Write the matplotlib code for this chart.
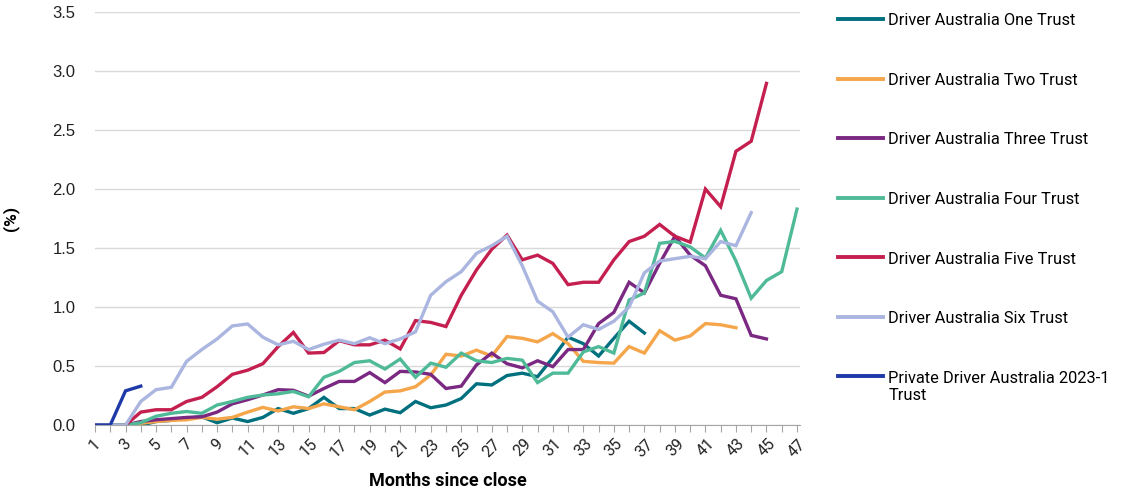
import numpy as np
import matplotlib
matplotlib.use('Agg')
import matplotlib.pyplot as plt

# months since close (category axis)
months = list(range(1, 48))

# default rates (%)
one_trust = [0, 0, 0, 0.0, 0.03, 0.04, 0.06, 0.07, 0.02, 0.06, 0.03, 0.065, 0.14, 0.10, 0.14,
             0.235, 0.14, 0.14, 0.085, 0.135, 0.105, 0.20, 0.147, 0.17, 0.225, 0.35, 0.34,
             0.42, 0.44, 0.41, 0.57, 0.745, 0.69, 0.585, 0.735, 0.88, 0.78]
two_trust = [0, 0, 0, 0.015, 0.03, 0.04, 0.045, 0.065, 0.05, 0.065, 0.11, 0.15, 0.12, 0.155,
             0.14, 0.18, 0.155, 0.13, 0.20, 0.28, 0.29, 0.325, 0.425, 0.60, 0.585, 0.635,
             0.585, 0.75, 0.735, 0.705, 0.775, 0.69, 0.54, 0.53, 0.525, 0.665, 0.61, 0.80,
             0.72, 0.755, 0.86, 0.85, 0.825]
three_trust = [0, 0, 0, 0.03, 0.045, 0.055, 0.065, 0.07, 0.11, 0.18, 0.215, 0.255, 0.30, 0.295,
               0.245, 0.31, 0.37, 0.37, 0.445, 0.36, 0.455, 0.45, 0.43, 0.31, 0.33, 0.51, 0.61,
               0.52, 0.485, 0.545, 0.495, 0.64, 0.64, 0.86, 0.955, 1.21, 1.12, 1.37, 1.60,
               1.44, 1.35, 1.10, 1.07, 0.76, 0.73]
four_trust = [0, 0, 0, 0.02, 0.075, 0.10, 0.115, 0.10, 0.17, 0.20, 0.235, 0.255, 0.265, 0.285,
              0.24, 0.405, 0.455, 0.53, 0.545, 0.475, 0.56, 0.405, 0.525, 0.49, 0.61, 0.545,
              0.53, 0.565, 0.55, 0.36, 0.44, 0.44, 0.62, 0.665, 0.61, 1.06, 1.12, 1.54, 1.556,
              1.51, 1.415, 1.65, 1.39, 1.075, 1.225, 1.30, 1.83]
five_trust = [np.nan, np.nan, 0, 0.11, 0.13, 0.13, 0.20, 0.235, 0.325, 0.43, 0.465, 0.52, 0.665,
              0.785, 0.61, 0.615, 0.715, 0.68, 0.68, 0.72, 0.645, 0.885, 0.87, 0.835, 1.10,
              1.315, 1.49, 1.61, 1.40, 1.44, 1.37, 1.19, 1.21, 1.21, 1.40, 1.555, 1.60, 1.70,
              1.60, 1.55, 2.00, 1.85, 2.32, 2.405, 2.895]
six_trust = [0, 0, 0, 0.20, 0.30, 0.32, 0.54, 0.64, 0.73, 0.84, 0.857, 0.745, 0.68, 0.71, 0.64,
             0.685, 0.72, 0.69, 0.74, 0.69, 0.73, 0.79, 1.10, 1.215, 1.30, 1.455, 1.52, 1.60,
             1.35, 1.05, 0.96, 0.745, 0.85, 0.81, 0.88, 1.00, 1.29, 1.39, 1.41, 1.43, 1.41,
             1.555, 1.52, 1.80]
private_2023 = [0, 0, 0.29, 0.33]

series = [
    ('Driver Australia One Trust', one_trust, '#00707f'),
    ('Driver Australia Two Trust', two_trust, '#f5a54a'),
    ('Driver Australia Three Trust', three_trust, '#7a2882'),
    ('Driver Australia Four Trust', four_trust, '#4fba98'),
    ('Driver Australia Five Trust', five_trust, '#c41f4f'),
    ('Driver Australia Six Trust', six_trust, '#aab5e0'),
    ('Private Driver Australia 2023-1\nTrust', private_2023, '#1f3aa8'),
]

fig = plt.figure(figsize=(11.39, 4.92), dpi=100)
ax = fig.add_axes([0.0834, 0.136, 0.619, 0.8396])

for label, vals, col in series:
    ax.plot(months[:len(vals)], vals, color=col, lw=2.4, label=label, solid_joinstyle='miter')

ax.set_xlim(1, 47.2)
ax.set_ylim(0, 3.5)
ax.set_yticks(np.arange(0, 3.51, 0.5))
ax.set_yticklabels([f'{v:.1f}' for v in np.arange(0, 3.51, 0.5)],
                   fontfamily='Liberation Sans', fontsize=12, color='#222222')
ax.set_xticks(months)
ax.set_xticklabels([str(m) if m % 2 == 1 else '' for m in months],
                   rotation=45, fontfamily='Roboto', fontsize=11.5, color='#222222')
ax.tick_params(axis='y', length=0, pad=14)
ax.tick_params(axis='x', length=5, color='#a6a6a6', pad=3)

ax.grid(axis='y', color='#d9d9d9', lw=1)
ax.set_axisbelow(True)
for s in ['top', 'right', 'left']:
    ax.spines[s].set_visible(False)
ax.spines['bottom'].set_color('#a6a6a6')

ax.set_xlabel('Months since close', fontfamily='Roboto', fontweight='bold', fontsize=13,
              labelpad=9)
ax.set_ylabel('(%)', fontfamily='Roboto', fontweight='bold', fontsize=12.5, labelpad=24)

leg = fig.legend(loc='upper left', bbox_to_anchor=(0.723, 1.003), frameon=False,
                 prop={'family': 'Roboto', 'size': 11.8}, handlelength=2.75,
                 handletextpad=0.3, labelspacing=2.72)
for line in leg.get_lines():
    line.set_linewidth(2.8)

# put the wrapped label's line next to its first text row, like the original
try:
    for row in leg._legend_handle_box.get_children()[0].get_children():
        row.align = 'top'
except Exception:
    pass

fig.savefig('out.png', dpi=100)
